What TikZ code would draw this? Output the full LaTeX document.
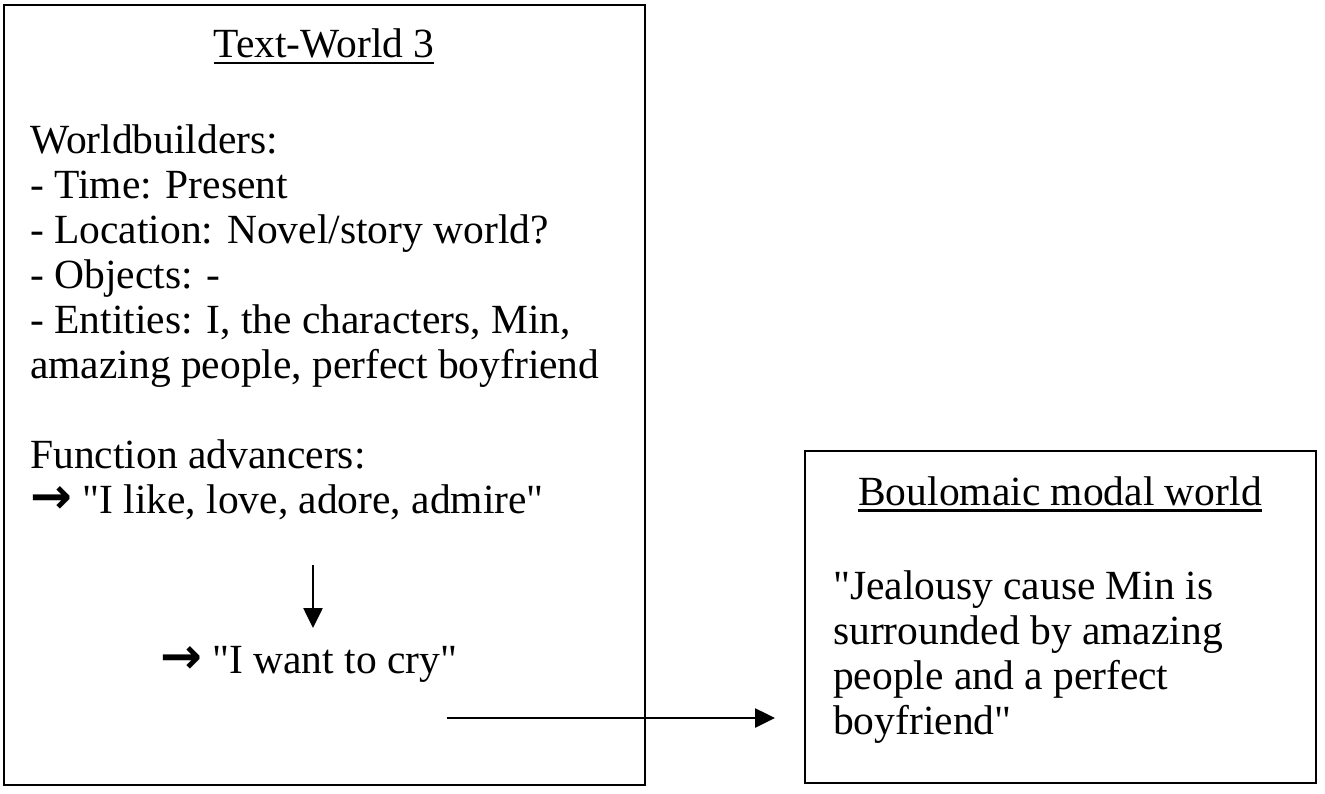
\documentclass[tikz,border=0pt]{standalone}
\usepackage{fontspec}
\setmainfont{Liberation Serif}[Ligatures=TeXOff]
\newfontfamily\symf{DejaVu Sans}[Ligatures=TeXOff]
\usetikzlibrary{arrows.meta}
\newcommand{\rarr}{{\symf\bfseries\fontsize{50}{45}\selectfont →}}
\newcommand{\qq}{"}
\newcommand{\myul}[1]{\leavevmode\vtop{\hbox{#1}\kern4pt\hrule height 2.6pt}}
\tikzset{
  box/.style={draw, line width=2.6pt, inner sep=0pt},
  txt/.style={anchor=base west, inner sep=0pt, font=\fontsize{41.5}{45}\selectfont},
  ctxt/.style={anchor=base, inner sep=0pt, font=\fontsize{41.5}{45}\selectfont},
  arr/.style={line width=2.6pt, -{Triangle[length=20pt,width=19pt]}}
}
\begin{document}
\begin{tikzpicture}[x=1pt,y=-1pt]
\useasboundingbox (0,0) rectangle (1325,793);
\fill[white] (0,0) rectangle (1325,793);
% boxes
\node[box, minimum width=641pt, minimum height=780pt] (tw) at (324.5,395) {};
\node[box, minimum width=511pt, minimum height=332pt] (bw) at (1060.5,617) {};
% left text
\node[ctxt] (t1) at (324,57) {\myul{Text-World 3}};
\node[txt] (l1) at (30,153) {Worldbuilders:};
\node[txt] (l2) at (30,198) {- Time: Present};
\node[txt] (l3) at (30,243) {- Location: Novel/story world?};
\node[txt] (l4) at (30,288) {- Objects: -};
\node[txt] (l5) at (30,333) {- Entities: I, the characters, Min,};
\node[txt] (l6) at (30,378) {amazing people, perfect boyfriend};
\node[txt] (l7) at (30,468) {Function advancers:};
\node[txt] (l8) at (30,513) {\rarr\ \qq I like, love, adore, admire\qq};
\node[txt] (l9) at (160,673) {\rarr\ \qq I want to cry\qq};
% right text
\node[ctxt] (t2) at (1060,505) {\myul{Boulomaic modal world}};
\node[txt] (r1) at (833,599) {\qq Jealousy cause Min is};
\node[txt] (r2) at (833,644) {surrounded by amazing};
\node[txt] (r3) at (833,689) {people and a perfect};
\node[txt] (r4) at (833,734) {boyfriend\qq};
% arrows
\coordinate (a1) at (313,565);
\coordinate (a2) at (313,628);
\draw[arr] (a1) -- (a2);
\coordinate (h1) at (447,718);
\coordinate (h2) at (775,718);
\draw[arr] (h1) -- (h2);
\end{tikzpicture}
\end{document}
